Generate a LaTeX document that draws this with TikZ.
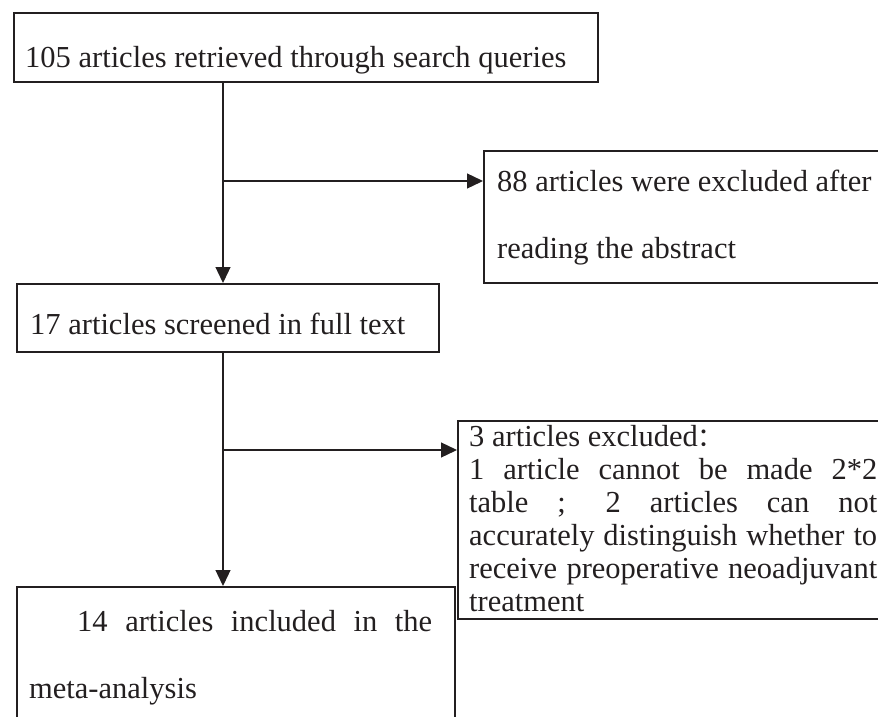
\documentclass[tikz,border=0pt]{standalone}
\usepackage{fontspec}
\setmainfont{Liberation Serif}
\newfontfamily\cjk{Noto Sans CJK SC}
\usetikzlibrary{arrows.meta}
\definecolor{ink}{HTML}{231F20}
\tikzset{
  boxnode/.style={draw=ink, line width=2.2pt, inner sep=0pt, anchor=north west},
  txt/.style={anchor=base west, inner sep=0pt, text=ink, font=\fontsize{30.5}{33}\selectfont},
  conn/.style={draw=ink, line width=1.3pt},
  arr/.style={conn, -{Triangle[length=16pt,width=15pt]}}
}
\begin{document}
\begin{tikzpicture}[x=1pt,y=-1pt]
\useasboundingbox (0,0) rectangle (878,717);
% boxes
\node[boxnode, minimum width=584pt, minimum height=69pt] (b1) at (13,12) {};
\node[boxnode, minimum width=420pt, minimum height=132pt] (b2) at (483,150) {};
\node[boxnode, minimum width=422pt, minimum height=68pt] (b3) at (16,283) {};
\node[boxnode, minimum width=440pt, minimum height=198pt] (b4) at (457,420) {};
\node[boxnode, minimum width=438pt, minimum height=160pt] (b5) at (16,586) {};
% texts
\node[txt] (t1) at (25,67) {105 articles retrieved through search queries};
\node[txt] (t2a) at (497,191) {88 articles were excluded after};
\node[txt] (t2b) at (497,258) {reading the abstract};
\node[txt] (t3) at (30,334) {17 articles screened in full text};
\node[txt] (t4a) at (469,446) {3 articles excluded{\cjk\fontsize{26}{26}\selectfont ：}};
\node[txt] (t4b) at (469,479) {\makebox[408pt][s]{1 article cannot be made 2*2}};
\node[txt] (t4c) at (469,512) {\makebox[408pt][s]{table ; 2 articles can not}};
\node[txt] (t4d) at (469,545) {\makebox[408pt][s]{accurately distinguish whether to}};
\node[txt] (t4e) at (469,578) {\makebox[408pt][s]{receive preoperative neoadjuvant}};
\node[txt] (t4f) at (469,611) {treatment};
\node[txt] (t5a) at (77,631) {\makebox[355pt][s]{14 articles included in the}};
\node[txt] (t5b) at (29,698) {meta-analysis};
% connectors
\coordinate (vx) at (223,0);
\coordinate (j1) at (223,181);
\coordinate (j2) at (223,450);
\draw[arr] (vx |- b1.south) -- (vx |- b3.north);
\draw[arr] (j1) -- (j1 -| b2.west);
\draw[arr] (vx |- b3.south) -- (vx |- b5.north);
\draw[arr] (j2) -- (j2 -| b4.west);
\end{tikzpicture}
\end{document}
